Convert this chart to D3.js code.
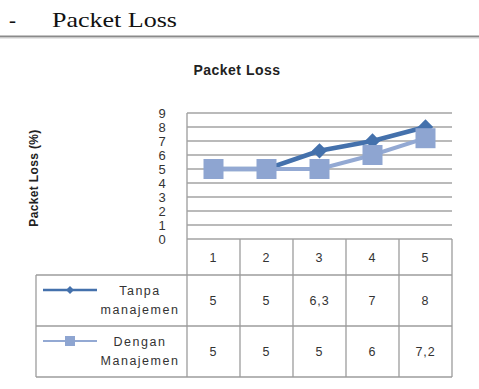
<!DOCTYPE html>
<html>
<head>
<meta charset="utf-8">
<script src="https://cdn.jsdelivr.net/npm/d3@7"></script>
<style>
  html, body { margin: 0; padding: 0; background: #fff; }
  svg { display: block; }
</style>
</head>
<body>
<svg id="chart" width="479" height="389"></svg>
<script>
// Packet loss per trial, with and without bandwidth management
const categories = ["1", "2", "3", "4", "5"];
const tanpaValues = [5, 5, 6.3, 7, 8];
const denganValues = [5, 5, 5, 6, 7.2];
const tanpaLabels = ["5", "5", "6,3", "7", "8"];
const denganLabels = ["5", "5", "5", "6", "7,2"];
const yTicks = [0, 1, 2, 3, 4, 5, 6, 7, 8, 9];
const seriesNames = [["Tanpa", "manajemen"], ["Dengan", "Manajemen"]];

const svg = d3.select("#chart");
const sans = "'Liberation Sans', 'DejaVu Sans', sans-serif";
const serif = "'Liberation Serif', 'Times New Roman', serif";
const darkBlue = "#4471ac";
const lightBlue = "#93a9d3";
const squareFill = "#8ea5d1";
const gridColor = "#a3a3a3";
const tableColor = "#9c9c9c";

// Section heading of the document
svg.append("text").attr("x", 9).attr("y", 27)
  .attr("font-family", serif).attr("font-size", 21).attr("fill", "#111").text("-");
svg.append("text").attr("x", 52).attr("y", 27)
  .attr("font-family", serif).attr("font-size", 21).attr("fill", "#111")
  .attr("textLength", 125).attr("lengthAdjust", "spacingAndGlyphs")
  .text("Packet Loss");
svg.append("rect").attr("x", 0).attr("y", 35.5).attr("width", 479).attr("height", 2).attr("fill", "#8a8a8a");
svg.append("rect").attr("x", 0).attr("y", 37.5).attr("width", 479).attr("height", 1).attr("fill", "#d0d0d0");

// Chart geometry
const plotLeft = 187, plotRight = 452, plotTop = 113, plotBottom = 239;
const tableLeft = 36, rowH = [36, 51, 51];

const x = d3.scaleBand().domain(categories).range([plotLeft, plotRight]);
const y = d3.scaleLinear().domain([0, 9]).range([plotBottom, plotTop]);
const cx = c => x(c) + x.bandwidth() / 2;

// Title
svg.append("text").attr("x", 237).attr("y", 75).attr("text-anchor", "middle")
  .attr("font-family", sans).attr("font-weight", "bold").attr("font-size", 14)
  .attr("letter-spacing", 0.5)
  .attr("fill", "#222").text("Packet Loss");

// Y axis title
svg.append("text")
  .attr("transform", "translate(38,178) rotate(-90)")
  .attr("text-anchor", "middle")
  .attr("font-family", sans).attr("font-weight", "bold").attr("font-size", 12)
  .attr("letter-spacing", 0.35)
  .attr("fill", "#222").text("Packet Loss (%)");

// Horizontal gridlines
svg.append("g").selectAll("line").data(yTicks).join("line")
  .attr("x1", plotLeft).attr("x2", plotRight)
  .attr("y1", d => y(d)).attr("y2", d => y(d))
  .attr("stroke", gridColor).attr("stroke-width", 1.4);

// Y axis labels
const yAxis = svg.append("g").attr("transform", `translate(${plotLeft},0)`)
  .call(d3.axisLeft(y).tickValues(yTicks).tickSize(0).tickPadding(25).tickFormat(d3.format("d")));
yAxis.select(".domain").remove();
yAxis.selectAll("text").attr("font-family", sans).attr("font-size", 13)
  .attr("fill", "#333").attr("text-anchor", "middle");

// Vertical axis line
svg.append("line").attr("x1", plotLeft).attr("x2", plotLeft).attr("y1", plotTop).attr("y2", plotBottom)
  .attr("stroke", gridColor).attr("stroke-width", 1.4);

// Series lines and markers
const line = d3.line().x((d, i) => cx(categories[i])).y(d => y(d));

svg.append("path").datum(tanpaValues).attr("d", line)
  .attr("fill", "none").attr("stroke", darkBlue).attr("stroke-width", 4.5);
svg.append("g").selectAll("path").data(tanpaValues).join("path")
  .attr("transform", (d, i) => `translate(${cx(categories[i])},${y(d)})`)
  .attr("d", d3.symbol(d3.symbolDiamond2, 150)())
  .attr("fill", darkBlue);

svg.append("path").datum(denganValues).attr("d", line)
  .attr("fill", "none").attr("stroke", lightBlue).attr("stroke-width", 4);
svg.append("g").selectAll("rect").data(denganValues).join("rect")
  .attr("x", (d, i) => cx(categories[i]) - 10)
  .attr("y", d => y(d) - 10)
  .attr("width", 20).attr("height", 20)
  .attr("fill", squareFill);

// Data table below the plot
const rowsY = [plotBottom, plotBottom + rowH[0], plotBottom + rowH[0] + rowH[1], plotBottom + rowH[0] + rowH[1] + rowH[2]];
const tbl = svg.append("g").attr("stroke", tableColor).attr("stroke-width", 1.3);
[1, 2, 3].forEach(r => tbl.append("line")
  .attr("x1", tableLeft).attr("x2", plotRight).attr("y1", rowsY[r]).attr("y2", rowsY[r]));
const colEdges = categories.map(c => x(c)).concat([plotRight]);
tbl.selectAll("line.col").data(colEdges).join("line").attr("class", "col")
  .attr("x1", d => d).attr("x2", d => d).attr("y1", plotBottom).attr("y2", rowsY[3]);
tbl.append("line").attr("x1", tableLeft).attr("x2", tableLeft).attr("y1", rowsY[1]).attr("y2", rowsY[3]);

const cellText = (g, xPos, yPos, txt, spacing) => g.append("text")
  .attr("x", xPos).attr("y", yPos).attr("text-anchor", "middle").attr("dominant-baseline", "central")
  .attr("font-family", sans).attr("font-size", 12.5).attr("letter-spacing", spacing)
  .attr("fill", "#333").text(txt);

const tg = svg.append("g");
categories.forEach(c => cellText(tg, cx(c), (rowsY[0] + rowsY[1]) / 2 + 1, c, 0.8));
tanpaLabels.forEach((t, i) => cellText(tg, cx(categories[i]), (rowsY[1] + rowsY[2]) / 2, t, 0.8));
denganLabels.forEach((t, i) => cellText(tg, cx(categories[i]), (rowsY[2] + rowsY[3]) / 2, t, 0.8));

// Legend keys inside the table
seriesNames.forEach((names, k) => {
  const r0 = rowsY[k + 1];
  const ly = r0 + 15;
  const col = k === 0 ? darkBlue : lightBlue;
  tg.append("line").attr("x1", 43).attr("x2", 97).attr("y1", ly).attr("y2", ly)
    .attr("stroke", col).attr("stroke-width", k === 0 ? 2.5 : 2.2);
  if (k === 0) {
    tg.append("path").attr("transform", `translate(70,${ly})`)
      .attr("d", d3.symbol(d3.symbolDiamond2, 40)()).attr("fill", darkBlue);
  } else {
    tg.append("rect").attr("x", 65).attr("y", ly - 5).attr("width", 10).attr("height", 10).attr("fill", squareFill);
  }
  cellText(tg, 140, r0 + 16, names[0], 1.5);
  cellText(tg, 140, r0 + 35, names[1], 1.5);
});
</script>
</body>
</html>
